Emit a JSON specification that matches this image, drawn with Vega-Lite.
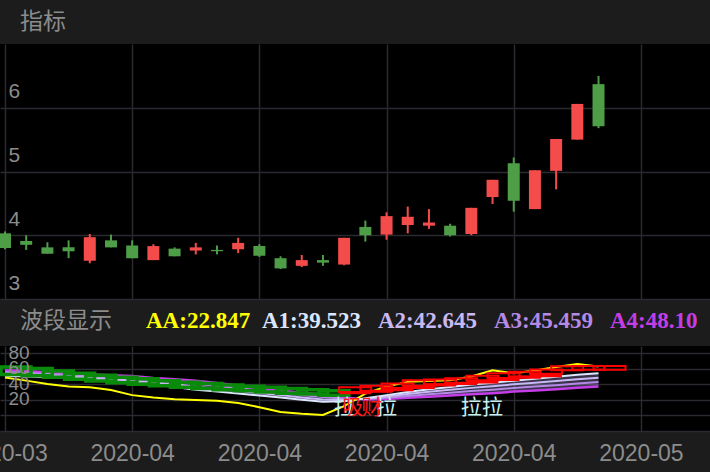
{
  "$schema": "https://vega.github.io/schema/vega-lite/v6.json",
  "background": "#1c1c1c",
  "padding": {"left": -38, "top": 0, "right": 0, "bottom": 12},
  "spacing": 0,
  "resolve": {"scale": {"color": "independent"}},
  "config": {
    "view": {"stroke": null},
    "axis": {"gridColor": "#2a2a30", "gridWidth": 1.5, "domain": false, "ticks": false, "labelColor": "#8c8c8c", "labelFont": "Liberation Sans", "title": null, "minExtent": 0}
  },
  "datasets": {
    "candles": [
      {"i": 0, "open": 4.03, "close": 3.80, "high": 4.06, "low": 3.78},
      {"i": 1, "open": 3.91, "close": 3.85, "high": 4.00, "low": 3.77},
      {"i": 2, "open": 3.81, "close": 3.71, "high": 3.89, "low": 3.71},
      {"i": 3, "open": 3.81, "close": 3.75, "high": 3.92, "low": 3.64},
      {"i": 4, "open": 3.60, "close": 3.97, "high": 4.02, "low": 3.56},
      {"i": 5, "open": 3.92, "close": 3.81, "high": 4.01, "low": 3.81},
      {"i": 6, "open": 3.84, "close": 3.64, "high": 3.92, "low": 3.64},
      {"i": 7, "open": 3.61, "close": 3.83, "high": 3.86, "low": 3.61},
      {"i": 8, "open": 3.79, "close": 3.67, "high": 3.81, "low": 3.67},
      {"i": 9, "open": 3.76, "close": 3.81, "high": 3.88, "low": 3.70},
      {"i": 10, "open": 3.77, "close": 3.75, "high": 3.84, "low": 3.70},
      {"i": 11, "open": 3.78, "close": 3.88, "high": 3.96, "low": 3.72},
      {"i": 12, "open": 3.83, "close": 3.68, "high": 3.86, "low": 3.66},
      {"i": 13, "open": 3.64, "close": 3.48, "high": 3.67, "low": 3.47},
      {"i": 14, "open": 3.52, "close": 3.61, "high": 3.69, "low": 3.50},
      {"i": 15, "open": 3.61, "close": 3.57, "high": 3.69, "low": 3.52},
      {"i": 16, "open": 3.54, "close": 3.96, "high": 3.96, "low": 3.53},
      {"i": 17, "open": 4.13, "close": 4.00, "high": 4.23, "low": 3.90},
      {"i": 18, "open": 4.01, "close": 4.30, "high": 4.36, "low": 3.93},
      {"i": 19, "open": 4.16, "close": 4.29, "high": 4.45, "low": 4.03},
      {"i": 20, "open": 4.15, "close": 4.20, "high": 4.41, "low": 4.10},
      {"i": 21, "open": 4.15, "close": 4.00, "high": 4.18, "low": 3.98},
      {"i": 22, "open": 4.02, "close": 4.43, "high": 4.43, "low": 4.00},
      {"i": 23, "open": 4.60, "close": 4.87, "high": 4.87, "low": 4.49},
      {"i": 24, "open": 5.13, "close": 4.54, "high": 5.22, "low": 4.37},
      {"i": 25, "open": 4.41, "close": 5.02, "high": 5.02, "low": 4.41},
      {"i": 26, "open": 5.01, "close": 5.51, "high": 5.51, "low": 4.72},
      {"i": 27, "open": 5.50, "close": 6.06, "high": 6.06, "low": 5.50},
      {"i": 28, "open": 6.37, "close": 5.71, "high": 6.50, "low": 5.68}
    ],
    "osc": [
      {"i": 0, "AA": 48.5, "A1": 51, "A2": 53.3, "A3": 55.7, "A4": 58},
      {"i": 1, "AA": 44.6, "A1": 50, "A2": 52.3, "A3": 54.7, "A4": 57},
      {"i": 2, "AA": 40.3, "A1": 49, "A2": 51.2, "A3": 53.3, "A4": 55.5},
      {"i": 3, "AA": 37, "A1": 47.5, "A2": 49.7, "A3": 51.8, "A4": 54},
      {"i": 4, "AA": 36, "A1": 46, "A2": 48.2, "A3": 50.3, "A4": 52.5},
      {"i": 5, "AA": 32.6, "A1": 44, "A2": 46.5, "A3": 49, "A4": 51.5},
      {"i": 6, "AA": 26, "A1": 42, "A2": 44.8, "A3": 47.7, "A4": 50.5},
      {"i": 7, "AA": 22.847, "A1": 39.523, "A2": 42.645, "A3": 45.459, "A4": 48.1},
      {"i": 8, "AA": 20.6, "A1": 36.5, "A2": 39.8, "A3": 43.2, "A4": 46.5},
      {"i": 9, "AA": 19.7, "A1": 33, "A2": 36.8, "A3": 40.7, "A4": 44.5},
      {"i": 10, "AA": 18.9, "A1": 30.5, "A2": 34.2, "A3": 37.8, "A4": 41.5},
      {"i": 11, "AA": 16, "A1": 28, "A2": 31.5, "A3": 35, "A4": 38.5},
      {"i": 12, "AA": 10.5, "A1": 25.5, "A2": 28.7, "A3": 31.8, "A4": 35},
      {"i": 13, "AA": 4.5, "A1": 23, "A2": 26, "A3": 29, "A4": 32},
      {"i": 14, "AA": 2, "A1": 20, "A2": 23, "A3": 26, "A4": 29},
      {"i": 15, "AA": 0.5, "A1": 17.5, "A2": 20.5, "A3": 23.5, "A4": 26.5},
      {"i": 16, "AA": 12, "A1": 18, "A2": 19.7, "A3": 21.3, "A4": 23},
      {"i": 17, "AA": 28, "A1": 22, "A2": 21.5, "A3": 21, "A4": 20.5},
      {"i": 18, "AA": 37, "A1": 26, "A2": 24.3, "A3": 22.7, "A4": 21},
      {"i": 19, "AA": 43, "A1": 30, "A2": 27.5, "A3": 25, "A4": 22.5},
      {"i": 20, "AA": 44, "A1": 33.5, "A2": 30.3, "A3": 27.2, "A4": 24},
      {"i": 21, "AA": 45, "A1": 36.5, "A2": 32.8, "A3": 29.2, "A4": 25.5},
      {"i": 22, "AA": 50, "A1": 39.5, "A2": 35.3, "A3": 31.2, "A4": 27},
      {"i": 23, "AA": 58, "A1": 42, "A2": 37.5, "A3": 33, "A4": 28.5},
      {"i": 24, "AA": 54, "A1": 44.5, "A2": 39.8, "A3": 35.2, "A4": 30.5},
      {"i": 25, "AA": 57.5, "A1": 47, "A2": 42, "A3": 37, "A4": 32},
      {"i": 26, "AA": 62, "A1": 49.5, "A2": 44.2, "A3": 38.8, "A4": 33.5},
      {"i": 27, "AA": 66, "A1": 52, "A2": 46.5, "A3": 41, "A4": 35.5},
      {"i": 28, "AA": 62.6, "A1": 54, "A2": 48.3, "A3": 42.7, "A4": 37}
    ],
    "gbox": [
      {"i": 0, "hi": 62, "lo": 52.5}, {"i": 1, "hi": 60, "lo": 51}, {"i": 2, "hi": 57, "lo": 49},
      {"i": 3, "hi": 54, "lo": 46.5}, {"i": 4, "hi": 51.5, "lo": 44}, {"i": 5, "hi": 49, "lo": 42},
      {"i": 6, "hi": 47, "lo": 40}, {"i": 7, "hi": 44.5, "lo": 38}, {"i": 8, "hi": 42.5, "lo": 36},
      {"i": 9, "hi": 41, "lo": 34.5}, {"i": 10, "hi": 39, "lo": 33}, {"i": 11, "hi": 37.5, "lo": 31.5},
      {"i": 12, "hi": 36, "lo": 30}, {"i": 13, "hi": 34.5, "lo": 28.5}, {"i": 14, "hi": 33, "lo": 27.5},
      {"i": 15, "hi": 31.5, "lo": 26}
    ],
    "rfill": [
      {"i": 16, "hi": 31, "lo": 27}, {"i": 17, "hi": 33, "lo": 29}, {"i": 18, "hi": 35.5, "lo": 31},
      {"i": 19, "hi": 38, "lo": 34}, {"i": 20, "hi": 41, "lo": 37}, {"i": 21, "hi": 43, "lo": 39},
      {"i": 22, "hi": 45, "lo": 41}, {"i": 23, "hi": 48, "lo": 44}, {"i": 24, "hi": 51, "lo": 47},
      {"i": 25, "hi": 53, "lo": 49}
    ],
    "rbox": [
      {"i": 16, "hi": 36, "lo": 30}, {"i": 17, "hi": 38, "lo": 31}, {"i": 18, "hi": 41, "lo": 35},
      {"i": 19, "hi": 45, "lo": 38}, {"i": 20, "hi": 46, "lo": 40}, {"i": 21, "hi": 47.5, "lo": 41.5},
      {"i": 22, "hi": 51, "lo": 45}, {"i": 23, "hi": 54, "lo": 48}, {"i": 24, "hi": 56, "lo": 50},
      {"i": 25, "hi": 59, "lo": 53.5}, {"i": 26, "hi": 63, "lo": 58}, {"i": 27, "hi": 63.5, "lo": 58.5},
      {"i": 28, "hi": 63.5, "lo": 58.5}
    ],
    "tags": [
      {"i": 16, "v": 10, "t": "拉"},
      {"i": 18, "v": 10, "t": "拉"},
      {"i": 22, "v": 10, "t": "拉"},
      {"i": 23, "v": 10, "t": "拉"},
      {"i": 16.4, "v": 10, "t": "吸"},
      {"i": 17.3, "v": 10, "t": "财"}
    ]
  },
  "vconcat": [
    {
      "width": 710,
      "height": 44,
      "data": {"values": [{"k": "label", "t": "指标"}]},
      "mark": {"type": "text", "align": "left", "baseline": "middle", "font": "Noto Sans CJK SC", "fontSize": 23, "color": "#8c8c8c", "dx": -10},
      "encoding": {
        "x": {"field": "k", "type": "nominal", "scale": {"type": "point", "padding": 0, "domain": ["label", "AA", "A1", "A2", "A3", "A4"], "range": [30, 610]}, "axis": null},
        "text": {"field": "t"}
      }
    },
    {
      "width": 710,
      "height": 255,
      "view": {"fill": "#000000", "stroke": null},
      "data": {"name": "candles"},
      "encoding": {
        "x": {"field": "i", "type": "quantitative", "scale": {"domain": [0, 33.0233], "nice": false, "zero": false},
              "axis": {"values": [0, 6, 12, 18, 24, 30], "labels": false, "grid": true}},
        "color": {"condition": {"test": "datum.close > datum.open", "value": "#f44b4b"}, "value": "#4e9e48"}
      },
      "layer": [
        {
          "mark": {"type": "rule", "strokeWidth": 2, "clip": true},
          "encoding": {
            "y": {"field": "low", "type": "quantitative", "scale": {"domain": [3, 7], "nice": false, "zero": false},
                  "axis": {"values": [3, 4, 5, 6], "format": "d", "grid": true, "labelAlign": "left", "labelBaseline": "middle", "labelPadding": -8, "labelOffset": -16, "labelFontSize": 21}},
            "y2": {"field": "high"}
          }
        },
        {
          "mark": {"type": "bar", "width": 12, "clip": true, "orient": "vertical"},
          "encoding": {
            "y": {"field": "open", "type": "quantitative"},
            "y2": {"field": "close"}
          }
        }
      ]
    },
    {
      "width": 710,
      "height": 44,
      "encoding": {
        "x": {"field": "k", "type": "nominal", "scale": {"type": "point", "padding": 0, "domain": ["label", "AA", "A1", "A2", "A3", "A4"], "range": [30, 610]}, "axis": null},
        "text": {"field": "t"}
      },
      "layer": [
        {
          "data": {"values": [{"k": "label", "t": "波段显示"}]},
          "mark": {"type": "text", "align": "left", "baseline": "middle", "font": "Noto Sans CJK SC", "fontSize": 23, "color": "#8c8c8c", "dx": -10}
        },
        {
          "data": {"values": [
            {"k": "AA", "t": "AA:22.847"},
            {"k": "A1", "t": "A1:39.523"},
            {"k": "A2", "t": "A2:42.645"},
            {"k": "A3", "t": "A3:45.459"},
            {"k": "A4", "t": "A4:48.10"}
          ]},
          "mark": {"type": "text", "align": "left", "baseline": "middle", "font": "Liberation Serif", "fontWeight": "bold", "fontSize": 23},
          "encoding": {
            "color": {"field": "k", "type": "nominal", "scale": {"domain": ["AA", "A1", "A2", "A3", "A4"], "range": ["#ffff00", "#dce6ff", "#c8b8f4", "#b48ae6", "#c43ee8"]}, "legend": null}
          }
        }
      ]
    },
    {
      "width": 710,
      "height": 85,
      "view": {"fill": "#000000", "stroke": null},
      "resolve": {"axis": {"y": "independent"}},
      "encoding": {
        "x": {"field": "i", "type": "quantitative", "scale": {"domain": [0, 33.0233], "nice": false, "zero": false},
              "axis": {"values": [0, 6, 12, 18, 24, 30], "grid": true, "labelFlush": false, "labelOverlap": false, "labelFontSize": 23, "labelPadding": 11,
                       "labelExpr": "datum.value == 0 ? '2020-03' : (datum.value >= 30 ? '2020-05' : '2020-04')"}}
      },
      "layer": [
        {
          "data": {"name": "osc"},
          "mark": {"type": "area", "clip": true, "color": "#b8a2ee", "opacity": 0.3},
          "encoding": {
            "y": {"field": "A1", "type": "quantitative", "scale": {"domain": [-20, 89], "nice": false, "zero": false},
                  "axis": {"orient": "left", "values": [-20, 0, 20, 40, 60, 80], "grid": true, "labels": false, "zindex": 0}},
            "y2": {"field": "A4"}
          }
        },
        {
          "data": {"name": "osc"},
          "mark": {"type": "line", "clip": true, "color": "#c43ee8", "strokeWidth": 2.5},
          "encoding": {"y": {"field": "A4", "type": "quantitative", "axis": null}}
        },
        {
          "data": {"name": "osc"},
          "mark": {"type": "line", "clip": true, "color": "#b48ae6", "strokeWidth": 2},
          "encoding": {"y": {"field": "A3", "type": "quantitative", "axis": null}}
        },
        {
          "data": {"name": "osc"},
          "mark": {"type": "line", "clip": true, "color": "#c8b8f4", "strokeWidth": 2},
          "encoding": {"y": {"field": "A2", "type": "quantitative", "axis": null}}
        },
        {
          "data": {"name": "osc"},
          "mark": {"type": "line", "clip": true, "color": "#dce6ff", "strokeWidth": 2},
          "encoding": {"y": {"field": "A1", "type": "quantitative", "axis": null}}
        },
        {
          "data": {"name": "osc"},
          "mark": {"type": "line", "clip": true, "color": "#ffff00", "strokeWidth": 2},
          "encoding": {"y": {"field": "AA", "type": "quantitative", "axis": null}}
        },
        {
          "data": {"name": "gbox"},
          "mark": {"type": "bar", "orient": "vertical", "clip": true, "width": 30, "xOffset": 11, "filled": false, "color": "#0a8a0a", "strokeWidth": 3.5},
          "encoding": {"y": {"field": "lo", "type": "quantitative", "axis": null}, "y2": {"field": "hi"}}
        },
        {
          "data": {"name": "rfill"},
          "mark": {"type": "bar", "orient": "vertical", "clip": true, "width": 32, "xOffset": 11, "color": "#ff0000"},
          "encoding": {"y": {"field": "lo", "type": "quantitative", "axis": null}, "y2": {"field": "hi"}}
        },
        {
          "data": {"name": "rbox"},
          "mark": {"type": "bar", "orient": "vertical", "clip": true, "width": 32, "xOffset": 11, "filled": false, "color": "#ff0000", "strokeWidth": 2},
          "encoding": {"y": {"field": "lo", "type": "quantitative", "axis": null}, "y2": {"field": "hi"}}
        },
        {
          "data": {"name": "tags"},
          "mark": {"type": "text", "clip": true, "font": "Noto Sans CJK SC", "fontSize": 21, "baseline": "middle", "align": "center"},
          "encoding": {
            "y": {"field": "v", "type": "quantitative",
                  "axis": {"orient": "left", "values": [20, 40, 60, 80], "grid": false, "labelOverlap": false, "labelAlign": "left", "labelBaseline": "middle", "labelPadding": -8, "labelOffset": -1, "labelFontSize": 19, "zindex": 1}},
            "text": {"field": "t"},
            "color": {"field": "t", "type": "nominal", "scale": {"domain": ["拉", "吸", "财"], "range": ["#c4f0f0", "#ff1a1a", "#ff1a1a"]}, "legend": null}
          }
        }
      ]
    }
  ]
}
